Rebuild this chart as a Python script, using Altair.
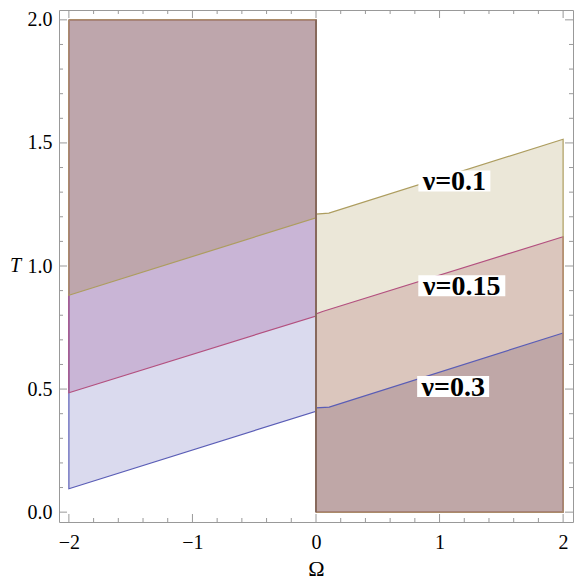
import altair as alt
import pandas as pd

# ---------------- data ----------------
nu_values = [0.1, 0.15, 0.3]

# Left region (Omega < 0): lower boundary T(Omega), region extends up to T=2
omega_left = [-2.0, 0.0]
T_left = {
    0.1: [0.881, 1.196],
    0.15: [0.485, 0.797],
    0.3: [0.095, 0.410],
}
# Right region (Omega > 0): upper boundary T(Omega), region extends down to T=0
omega_right = {
    0.1: [0.0, 0.104, 2.0],
    0.15: [0.0, 0.053, 2.0],
    0.3: [0.0, 0.107, 2.0],
}
T_right = {
    0.1: [1.211, 1.215, 1.515],
    0.15: [0.805, 0.815, 1.119],
    0.3: [0.424, 0.427, 0.728],
}
T_top = 2.0
T_bottom = 0.0
omega_min, omega_max = -2.0, 2.0

label_text = ["ν=0.1", "ν=0.15", "ν=0.3"]
label_omega = [1.12, 1.18, 1.11]
label_T = [1.345, 0.92, 0.51]
label_box_w = [72, 87, 72]
label_box_h = 21

x_major = [-2, -1, 0, 1, 2]
x_minor = [-1.8, -1.6, -1.4, -1.2, -0.8, -0.6, -0.4, -0.2,
           0.2, 0.4, 0.6, 0.8, 1.2, 1.4, 1.6, 1.8]
y_major = [0, 0.5, 1, 1.5, 2]
y_minor = [0.1, 0.2, 0.3, 0.4, 0.6, 0.7, 0.8, 0.9,
           1.1, 1.2, 1.3, 1.4, 1.6, 1.7, 1.8, 1.9]

# ---------------- styles ----------------
W, H = 514, 512
FONT = "Liberation Serif, Times New Roman, serif"
line_color = {0.3: "#5a5db6", 0.15: "#b3507f", 0.1: "#ad9d5f"}
fill_left = {0.3: "#dadaee", 0.15: "#c9b5d6", 0.1: "#bea6ac"}
fill_right = {0.1: "#ebe7d8", 0.15: "#dbc6bd", 0.3: "#bfa7a7"}
TICK = "#999999"

xs = alt.Scale(domain=[-2.08, 2.08], nice=False, zero=False)
ys = alt.Scale(domain=[-0.04, 2.04], nice=False, zero=False)

x_axis = alt.Axis(values=x_major, ticks=False, domain=False, grid=False,
                  labelFont=FONT, labelFontSize=20, labelColor="black",
                  labelPadding=26, labelBaseline="alphabetic",
                  labelFlush=False, labelOverlap=False,
                  title="Ω", titleFont=FONT, titleFontSize=22,
                  titleFontWeight="normal", titleColor="black",
                  titleY=53, titleBaseline="alphabetic")
y_axis = alt.Axis(values=y_major, format=".1f", ticks=False, domain=False,
                  grid=False, labelFont=FONT, labelFontSize=20,
                  labelColor="black", labelPadding=7, labelFlush=False,
                  labelOverlap=False,
                  title="T", titleFont=FONT, titleFontSize=20,
                  titleFontWeight="normal", titleFontStyle="italic",
                  titleColor="black", titleAngle=0, titleX=-44, titleY=261,
                  titleAlign="center", titleBaseline="alphabetic")


def X(f):
    return alt.X(f, type="quantitative", scale=xs, axis=x_axis)


def Y(f):
    return alt.Y(f, type="quantitative", scale=ys, axis=y_axis)


layers = []

# ---- fills: left side (region above boundary) ----
for nu in [0.3, 0.15, 0.1]:
    df = pd.DataFrame({"omega": omega_left, "T": T_left[nu],
                       "T2": [T_top] * len(omega_left)})
    layers.append(alt.Chart(df).mark_area(color=fill_left[nu], opacity=1)
                  .encode(x=X("omega"), y=Y("T"), y2="T2"))

# ---- fills: right side (region below boundary) ----
for nu in [0.1, 0.15, 0.3]:
    df = pd.DataFrame({"omega": omega_right[nu], "T": T_right[nu],
                       "T2": [T_bottom] * len(omega_right[nu])})
    layers.append(alt.Chart(df).mark_area(color=fill_right[nu], opacity=1)
                  .encode(x=X("omega"), y=Y("T"), y2="T2"))

# ---- region outlines ----
for nu in [0.3, 0.15, 0.1]:
    lo = [omega_min] + omega_left + [omega_left[-1], omega_min]
    lt = [T_top] + T_left[nu] + [T_top, T_top]
    ro = [omega_right[nu][0]] + omega_right[nu] + [omega_max, omega_right[nu][0]]
    rt = [T_bottom] + T_right[nu] + [T_bottom, T_bottom]
    for o, t in [(lo, lt), (ro, rt)]:
        df = pd.DataFrame({"omega": o, "T": t, "i": list(range(len(o)))})
        layers.append(alt.Chart(df).mark_line(color=line_color[nu], strokeWidth=1.2)
                      .encode(x=X("omega"), y=Y("T"), order="i:Q"))

# ---- shared boundary at Omega = 0 ----
df0 = pd.DataFrame({"omega": [omega_left[-1]], "T": [T_bottom], "T2": [T_top]})
layers.append(alt.Chart(df0).mark_rule(color="#87695c", strokeWidth=2)
              .encode(x=X("omega"), y=Y("T"), y2="T2"))

# ---- frame ticks (inward) ----
for vals, L in [(x_major, 8), (x_minor, 4)]:
    dft = pd.DataFrame({"v": vals})
    layers.append(alt.Chart(dft).mark_rule(color=TICK, strokeWidth=1)
                  .encode(x=X("v"), y=alt.value(H), y2=alt.value(H - L)))
    layers.append(alt.Chart(dft).mark_rule(color=TICK, strokeWidth=1)
                  .encode(x=X("v"), y=alt.value(0), y2=alt.value(L)))
for vals, L in [(y_major, 8), (y_minor, 4)]:
    dft = pd.DataFrame({"v": vals})
    layers.append(alt.Chart(dft).mark_rule(color=TICK, strokeWidth=1)
                  .encode(y=Y("v"), x=alt.value(0), x2=alt.value(L)))
    layers.append(alt.Chart(dft).mark_rule(color=TICK, strokeWidth=1)
                  .encode(y=Y("v"), x=alt.value(W), x2=alt.value(W - L)))

# ---- labels with white boxes ----
r = [label_box_h / w for w in label_box_w]
lab = pd.DataFrame({
    "text": label_text, "omega": label_omega, "T": label_T,
    "path": [f"M-1,-{q:.4f}L1,-{q:.4f}L1,{q:.4f}L-1,{q:.4f}Z" for q in r],
    "sz": [w * w for w in label_box_w],
})
layers.append(alt.Chart(lab).mark_point(filled=True, opacity=1, color="white",
                                        strokeWidth=0)
              .encode(x=X("omega"), y=Y("T"),
                      shape=alt.Shape("path:N", scale=None),
                      size=alt.Size("sz:Q", scale=None)))
layers.append(alt.Chart(lab).mark_text(font=FONT, fontWeight="bold", fontSize=28,
                                       color="black", align="center",
                                       baseline="middle", dy=1)
              .encode(x=X("omega"), y=Y("T"), text="text:N"))

chart = alt.layer(*layers).properties(
    width=W, height=H,
    autosize=alt.AutoSizeParams(type="none"),
    padding={"left": 51, "top": 2, "right": 1, "bottom": 57},
).configure_view(stroke="#999999", strokeWidth=1)

chart.save("out.html", embed_options={"renderer": "svg", "actions": False})
